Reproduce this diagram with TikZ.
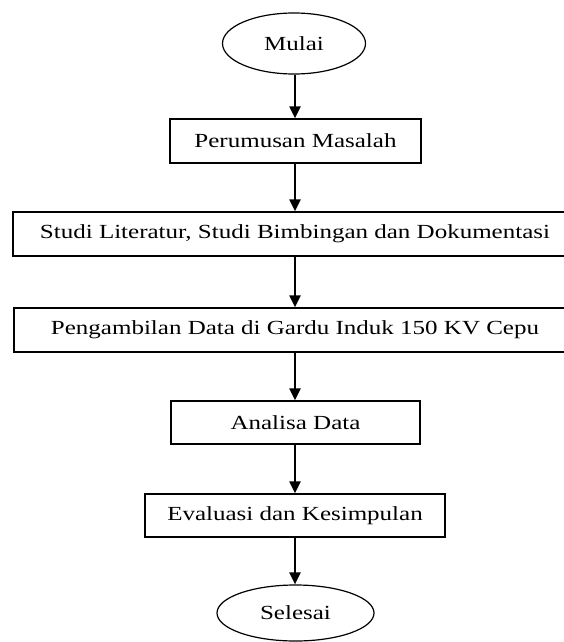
\documentclass[tikz,border=0pt]{standalone}
\usepackage{fontspec}
\setmainfont{Liberation Serif}[FakeStretch=1.25]
\usetikzlibrary{arrows.meta,shapes.geometric}
\begin{document}
\begin{tikzpicture}[x=1pt,y=-1pt,
  txt/.style={font=\fontsize{20}{24}\selectfont},
  box/.style={txt,draw,line width=1.3pt,minimum height=44pt,inner sep=0pt},
  term/.style={txt,draw,ellipse,line width=1.2pt,inner sep=0pt},
  flow/.style={line width=2.2pt,-{Triangle[width=11pt,length=12pt]}}]
\fill[white] (0,0) rectangle (563,642);
\useasboundingbox (0,0) rectangle (563,642);
\node[term,minimum width=143pt,minimum height=61pt] (mulai) at (294,43.5) {Mulai};
\node[box,minimum width=251pt] (rumus) at (295.5,141) {Perumusan Masalah};
\node[box,minimum width=564pt] (studi) at (295,234) {Studi Literatur, Studi Bimbingan dan Dokumentasi};
\node[box,minimum width=562pt] (ambil) at (295,330) {Pengambilan Data di Gardu Induk 150 KV Cepu};
\node[box,minimum width=249pt,minimum height=43pt] (analisa) at (295.5,422.5) {Analisa Data};
\node[box,minimum width=300pt,minimum height=43pt] (eval) at (295,515.5) {Evaluasi dan Kesimpulan};
\node[term,minimum width=157pt,minimum height=56pt] (selesai) at (295.5,613) {Selesai};
\draw[flow] (mulai.south -| 295,0) -- (rumus.north -| 295,0);
\draw[flow] (rumus.south -| 295,0) -- (studi.north -| 295,0);
\draw[flow] (studi.south -| 295,0) -- (ambil.north -| 295,0);
\draw[flow] (ambil.south -| 295,0) -- (analisa.north -| 295,0);
\draw[flow] (analisa.south -| 295,0) -- (eval.north -| 295,0);
\draw[flow] (eval.south -| 295,0) -- (selesai.north -| 295,0);
\end{tikzpicture}
\end{document}
